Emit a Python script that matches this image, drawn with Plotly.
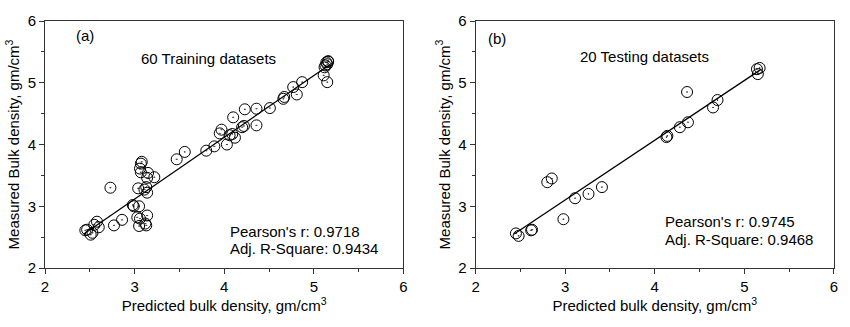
import numpy as np
import plotly.graph_objects as go
from plotly.subplots import make_subplots

# Training (60)
train_pred = [2.45, 2.47, 2.51, 2.55, 2.58, 2.60, 2.73, 2.77, 2.86, 2.99,
              3.05, 3.04, 3.13, 3.14, 3.07, 3.06, 3.07, 3.14, 3.15, 3.22,
              3.06, 3.14, 3.05, 3.13, 3.47, 3.56, 3.80, 3.89, 3.95, 3.97,
              4.03, 4.09, 4.12, 4.10, 4.22, 4.23, 4.36, 4.36, 4.51, 4.66,
              4.67, 4.77, 4.81, 4.87, 5.11, 5.12, 5.15, 5.16, 5.14, 5.15,
              3.08, 2.53, 3.11, 4.06, 5.13, 3.12, 3.03, 4.20, 2.98, 5.16]
train_meas = [2.61, 2.62, 2.54, 2.70, 2.75, 2.66, 3.30, 2.69, 2.78, 3.00,
              3.00, 3.29, 3.31, 3.22, 3.69, 3.61, 3.55, 3.46, 3.54, 3.47,
              2.80, 2.85, 2.68, 2.69, 3.76, 3.88, 3.90, 3.97, 4.18, 4.24,
              4.00, 4.17, 4.11, 4.44, 4.30, 4.57, 4.31, 4.58, 4.59, 4.74,
              4.77, 4.93, 4.81, 5.01, 5.12, 5.25, 5.30, 5.35, 5.33, 5.01,
              3.72, 2.57, 3.27, 4.15, 5.28, 2.72, 2.82, 4.28, 3.02, 5.34]

# Testing (20)
test_pred = [2.45, 2.48, 2.63, 2.62, 2.98, 2.80, 2.85, 3.11, 3.26, 3.41,
             4.13, 4.14, 4.28, 4.37, 4.36, 4.65, 4.70, 5.14, 5.17, 5.15]
test_meas = [2.56, 2.52, 2.62, 2.61, 2.79, 3.39, 3.45, 3.13, 3.20, 3.31,
             4.12, 4.14, 4.28, 4.36, 4.85, 4.60, 4.72, 5.22, 5.24, 5.14]

x_title = "Predicted bulk density, gm/cm<sup>3</sup>"
y_title = "Measured Bulk density, gm/cm<sup>3</sup>"

FONT = "Liberation Sans, Arial, sans-serif"

fig = make_subplots(rows=1, cols=2, horizontal_spacing=0.0915)

def add_panel(xs, ys, col):
    xs = np.array(xs); ys = np.array(ys)
    fig.add_trace(go.Scatter(x=xs, y=ys, mode="markers",
                             marker=dict(symbol="circle-open-dot", size=11,
                                         color="black", line=dict(width=1, color="black")),
                             showlegend=False), row=1, col=col)
    m, b = np.polyfit(xs, ys, 1)
    lx = np.array([xs.min() - 0.02, xs.max() + 0.02])
    fig.add_trace(go.Scatter(x=lx, y=m * lx + b, mode="lines",
                             line=dict(color="black", width=1.3), showlegend=False),
                  row=1, col=col)

add_panel(train_pred, train_meas, 1)
add_panel(test_pred, test_meas, 2)

axis_common = dict(range=[2, 6], dtick=1, tick0=2, showgrid=False, zeroline=False,
                   showline=True, linecolor="#333", linewidth=1, mirror=True,
                   ticks="outside", ticklen=5, tickcolor="#333",
                   minor=dict(dtick=0.5, ticks="outside", ticklen=3, tickcolor="#333"),
                   tickfont=dict(size=15, color="black", family=FONT))

title_font = dict(size=15, color="black", family=FONT)
for c in (1, 2):
    fig.update_xaxes(**axis_common, title=dict(text=x_title, standoff=6, font=title_font),
                     row=1, col=c)
    fig.update_yaxes(**axis_common, title=dict(text=y_title, standoff=4, font=title_font),
                     row=1, col=c)

ann_font = dict(size=15, color="black", family=FONT)
anns = [
    ("x domain", "y domain", 0.08, 0.94, "(a)", "left"),
    ("x domain", "y domain", 0.455, 0.85, "60 Training datasets", "center"),
    ("x domain", "y domain", 0.51, 0.148, "Pearson's r: 0.9718", "left"),
    ("x domain", "y domain", 0.51, 0.08, "Adj. R-Square: 0.9434", "left"),
    ("x2 domain", "y2 domain", 0.03, 0.93, "(b)", "left"),
    ("x2 domain", "y2 domain", 0.47, 0.858, "20 Testing datasets", "center"),
    ("x2 domain", "y2 domain", 0.522, 0.188, "Pearson's r: 0.9745", "left"),
    ("x2 domain", "y2 domain", 0.522, 0.116, "Adj. R-Square: 0.9468", "left"),
]
for xr, yr, x, y, t, al in anns:
    fig.add_annotation(xref=xr, yref=yr, x=x, y=y, text=t, showarrow=False,
                       xanchor=al, yanchor="middle", font=ann_font)

fig.update_layout(width=850, height=327, margin=dict(l=45, r=16, t=17, b=59),
                  plot_bgcolor="white", paper_bgcolor="white",
                  font=dict(family=FONT, color="black", size=15))

fig.write_html("out.html")
